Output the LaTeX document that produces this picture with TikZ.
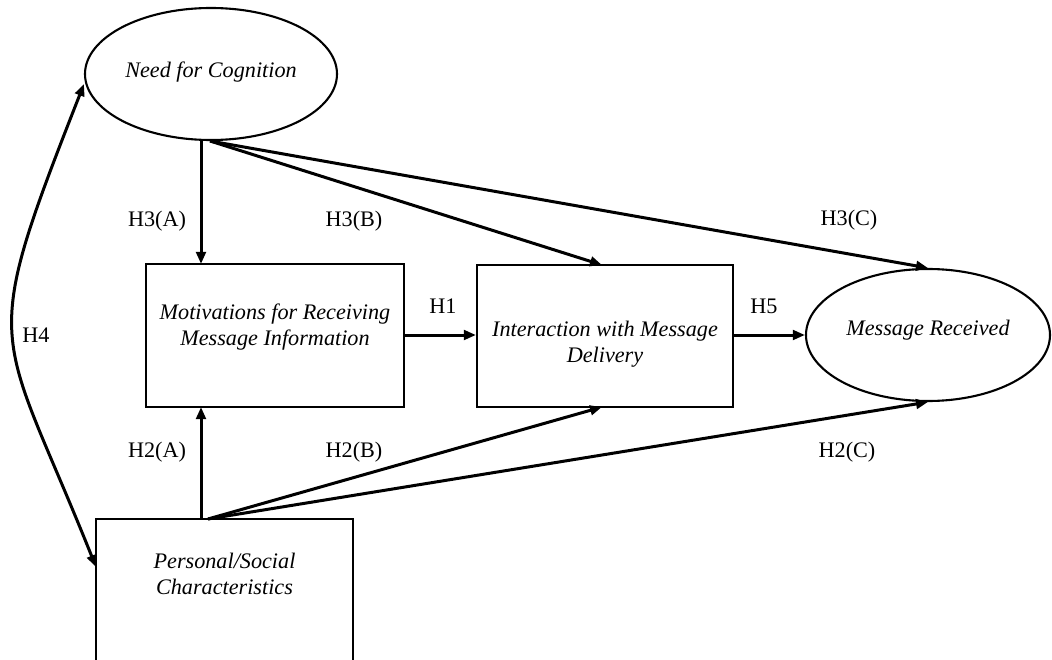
\documentclass[tikz,border=0pt]{standalone}
\usepackage{fontspec}
\setmainfont{Liberation Serif}
\usetikzlibrary{shapes.geometric,arrows.meta}
\begin{document}
\begin{tikzpicture}[x=1pt,y=-1pt,
  every node/.style={font=\fontsize{22.2}{26}\selectfont},
  ell/.style={draw,line width=2.1pt,ellipse,inner sep=0pt},
  boxn/.style={draw,line width=2.1pt,rectangle,inner sep=0pt},
  txt/.style={align=center,font=\fontsize{22.2}{26}\selectfont\itshape},
  lab/.style={inner sep=0pt},
  arr/.style={line width=3pt,-{Triangle[length=12pt,width=9.5pt]}},
  darr/.style={line width=3pt,{Triangle[length=12pt,width=9.5pt]}-{Triangle[length=12pt,width=9.5pt]}}]
\clip (0,0) rectangle (1052,660);
% nodes
\node[ell,minimum width=252pt,minimum height=132pt] (nfc) at (211,74) {};
\node[txt] (nfcT) at (211,72) {Need for Cognition};
\node[boxn,minimum width=258pt,minimum height=143pt] (mot) at (275,335.5) {};
\node[txt] (motT) at (275,327) {Motivations for Receiving\\Message Information};
\node[boxn,minimum width=256pt,minimum height=142pt] (int) at (605,336) {};
\node[txt] (intT) at (605,344) {Interaction with Message\\Delivery};
\node[ell,minimum width=244pt,minimum height=132pt] (mr) at (928,335) {};
\node[txt] (mrT) at (928,330) {Message Received};
\node[boxn,minimum width=257pt,minimum height=181pt] (per) at (224.5,609.5) {};
\node[txt] (perT) at (224.5,574) {Personal/Social\\Characteristics};
% connector points
\coordinate (nfcA) at (201,140);
\coordinate (nfcB) at (210,141);
\coordinate (perA) at (201,519);
\coordinate (perB) at (208,519);
\coordinate (intTop) at (602,265);
\coordinate (intBot) at (602,407);
\coordinate (motTop) at (201,264);
\coordinate (motBot) at (201,407);
\coordinate (nfcL) at (84,84);
\coordinate (perL) at (96,567);
% connectors
\draw[arr] (nfcA) -- (motTop);
\draw[arr] (nfcB) -- (intTop);
\draw[arr] (nfcB) -- (mr.north);
\draw[arr] (mot.east |- 0,335) -- (int.west |- 0,335);
\draw[arr] (int.east |- 0,335) -- (mr.west |- 0,335);
\draw[arr] (perA) -- (motBot);
\draw[arr] (perB) -- (intBot);
\draw[arr] (perB) -- (mr.south);
\draw[darr] (nfcL) .. controls (-23,356) and (-2,322) .. (perL);
% labels
\node[lab] (h3a) at (157,221) {H3(A)};
\node[lab] (h3b) at (354,221) {H3(B)};
\node[lab] (h3c) at (849,220) {H3(C)};
\node[lab] (h1) at (443,306) {H1};
\node[lab] (h5) at (764,306) {H5};
\node[lab] (h2a) at (157,452) {H2(A)};
\node[lab] (h2b) at (354,452) {H2(B)};
\node[lab] (h2c) at (847,452) {H2(C)};
\node[lab] (h4) at (36,335) {H4};
\end{tikzpicture}
\end{document}
